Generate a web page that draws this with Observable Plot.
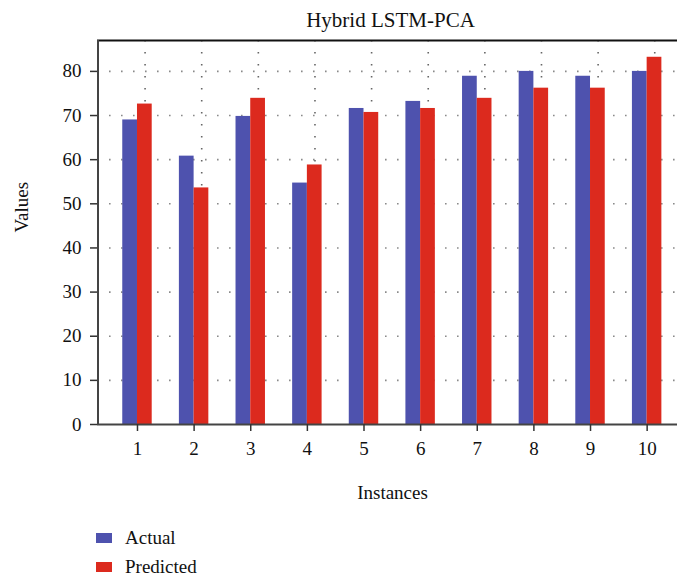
<!DOCTYPE html>
<html>
<head>
<meta charset="utf-8">
<script src="https://cdn.jsdelivr.net/npm/d3@7"></script>
<script src="https://cdn.jsdelivr.net/npm/@observablehq/plot@0.6"></script>
<style>
  html, body { margin: 0; padding: 0; background: #fff; }
  body { width: 677px; height: 582px; overflow: hidden; font-family: "Liberation Serif", "DejaVu Serif", serif; color: #111; }
  #legend { padding-top: 7px; }
  .row { display: flex; align-items: center; height: 29px; font-size: 19px; }
  .sw { width: 16px; height: 10px; margin-left: 96px; margin-right: 13px; }
</style>
</head>
<body>
<div id="chart"></div>
<div id="legend"></div>
<script>
const instances = [1, 2, 3, 4, 5, 6, 7, 8, 9, 10];
const actual    = [69.0, 60.8, 69.8, 54.7, 71.6, 73.2, 78.9, 80.0, 78.9, 80.0];
const predicted = [72.6, 53.6, 73.9, 58.8, 70.7, 71.6, 73.9, 76.2, 76.2, 83.2];
const seriesNames = ["Actual", "Predicted"];
const seriesColors = ["#4e52ae", "#dc2a1e"];
const yTicks = [0, 10, 20, 30, 40, 50, 60, 70, 80];
const titleText = "Hybrid LSTM-PCA";
const xLabel = "Instances";
const yLabel = "Values";

const rows = instances.flatMap((inst, i) => [
  {inst, series: seriesNames[0], value: actual[i]},
  {inst, series: seriesNames[1], value: predicted[i]}
]);
const half = 0.26;
const gridY = yTicks.filter(d => d > 0);

const plot = Plot.plot({
  width: 677,
  height: 516,
  marginTop: 40,
  marginLeft: 97,
  marginRight: 0,
  marginBottom: 92,
  style: {fontFamily: "Liberation Serif, serif", fontSize: "19px", color: "#111", background: "#fff"},
  x: {domain: [0.294, 10.536], axis: null},
  y: {domain: [0, 87], axis: null},
  color: {domain: seriesNames, range: seriesColors},
  marks: [
    Plot.ruleY(gridY, {stroke: "#8a8a8a", strokeWidth: 1.6, strokeDasharray: "1.6 10.4"}),
    Plot.ruleX(instances, {x: d => d, y1: 87, y2: 0, dx: 7.6, stroke: "#666", strokeWidth: 1.6, strokeDasharray: "1.6 10.4"}),
    Plot.rectY(rows, {
      x1: d => d.series === seriesNames[0] ? d.inst - half : d.inst,
      x2: d => d.series === seriesNames[0] ? d.inst : d.inst + half,
      y1: 0, y2: "value", fill: "series"
    }),
    Plot.ruleY([87], {stroke: "#111", strokeWidth: 2}),
    Plot.ruleY([0], {stroke: "#444", strokeWidth: 2}),
    Plot.ruleX([0.294], {stroke: "#444", strokeWidth: 2, dx: 0.5}),
    Plot.axisY({ticks: yTicks, tickSize: 7, tickPadding: 9, label: null, stroke: "#333", strokeWidth: 1.5, fontSize: 19}),
    Plot.axisX({ticks: instances, tickFormat: d => String(d), tickSize: 7, tickPadding: 10, label: null, stroke: "#333", strokeWidth: 1.5, fontSize: 19}),
    Plot.text([titleText], {frameAnchor: "top", dy: -28, dx: 3, fontSize: 21}),
    Plot.text([xLabel], {frameAnchor: "bottom", dy: 74, dx: 5, fontSize: 19}),
    Plot.text([yLabel], {frameAnchor: "left", dx: -76, rotate: -90, fontSize: 19})
  ]
});
document.getElementById("chart").appendChild(plot);

const legend = document.getElementById("legend");
seriesNames.forEach((name, i) => {
  const row = document.createElement("div");
  row.className = "row";
  const sw = document.createElement("div");
  sw.className = "sw";
  sw.style.background = seriesColors[i];
  const label = document.createElement("span");
  label.textContent = name;
  row.appendChild(sw);
  row.appendChild(label);
  legend.appendChild(row);
});
</script>
</body>
</html>
